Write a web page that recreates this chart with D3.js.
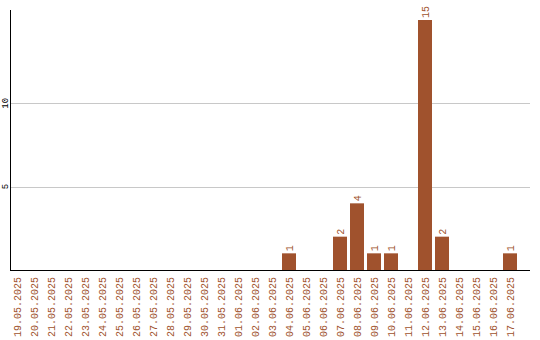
<!DOCTYPE html>
<html>
<head>
<meta charset="utf-8">
<script src="https://cdn.jsdelivr.net/npm/d3@7"></script>
<style>
  body { margin: 0; background: #fff; }
  text { font-family: "Liberation Mono", "DejaVu Sans Mono", monospace; }
</style>
</head>
<body>
<div id="container"></div>
<script>
var dates = ['19.05.2025','20.05.2025','21.05.2025','22.05.2025','23.05.2025','24.05.2025',
  '25.05.2025','26.05.2025','27.05.2025','28.05.2025','29.05.2025','30.05.2025','31.05.2025',
  '01.06.2025','02.06.2025','03.06.2025','04.06.2025','05.06.2025','06.06.2025','07.06.2025',
  '08.06.2025','09.06.2025','10.06.2025','11.06.2025','12.06.2025','13.06.2025','14.06.2025',
  '15.06.2025','16.06.2025','17.06.2025'];
var counts = [0,0,0,0,0,0,0,0,0,0,0,0,0,0,0,0,1,0,0,2,4,1,1,0,15,2,0,0,0,1];
var yTicks = [5, 10];

var barColor = '#a0522d';
var margin = ({top: 10, right: 10, bottom: 70, left: 10});
var width = 540, height = 340;

var data = dates.map((d, i) => ({date: d, value: counts[i]}));

var svg = d3.select('div#container')
	.append('svg')
	.attr('width', width)
	.attr('height', height);

var x = d3.scaleBand()
	.domain(dates)
	.range([margin.left, 517])
	.paddingInner(3 / 17)
	.paddingOuter(0)
	.align(0);

var y = d3.scaleLinear()
	.domain([0, 15.6])
	.range([height - margin.bottom, margin.top]);

// gridlines
svg.append('g')
	.selectAll('line')
	.data(yTicks)
	.join('line')
	.attr('x1', margin.left)
	.attr('x2', width - margin.right)
	.attr('y1', d => Math.round(y(d)) + 0.5)
	.attr('y2', d => Math.round(y(d)) + 0.5)
	.attr('stroke', '#c8c8c8');

// y tick labels (rotated)
svg.append('g')
	.selectAll('text')
	.data(yTicks)
	.join('text')
	.attr('transform', d => 'translate(5,' + y(d) + ') rotate(-90)')
	.attr('text-anchor', 'middle')
	.attr('dy', '0.35em')
	.attr('font-size', '9px')
	.attr('fill', '#000')
	.text(d => d);

// bars
svg.append('g')
	.selectAll('rect')
	.data(data.filter(d => d.value > 0))
	.join('rect')
	.attr('x', d => x(d.date))
	.attr('y', d => y(d.value))
	.attr('width', x.bandwidth())
	.attr('height', d => y(0) - y(d.value))
	.attr('fill', barColor);

// value labels
svg.append('g')
	.selectAll('text')
	.data(data.filter(d => d.value > 0))
	.join('text')
	.attr('transform', d => 'translate(' + (x(d.date) + x.bandwidth() / 2) + ',' + (y(d.value) - 2) + ') rotate(-90)')
	.attr('text-anchor', 'start')
	.attr('dy', '0.35em')
	.attr('font-size', '10px')
	.attr('fill', barColor)
	.text(d => d.value);

// axes lines
svg.append('line')
	.attr('x1', margin.left + 0.5).attr('x2', margin.left + 0.5)
	.attr('y1', margin.top).attr('y2', y(0))
	.attr('stroke', '#000');
svg.append('line')
	.attr('x1', margin.left).attr('x2', width - margin.right)
	.attr('y1', y(0) + 0.5).attr('y2', y(0) + 0.5)
	.attr('stroke', '#000');

// x labels
svg.append('g')
	.selectAll('text')
	.data(dates)
	.join('text')
	.attr('transform', d => 'translate(' + (x(d) + x.bandwidth() / 2) + ',' + 277 + ') rotate(-90)')
	.attr('text-anchor', 'end')
	.attr('dy', '0.35em')
	.attr('font-size', '10px')
	.attr('fill', barColor)
	.text(d => d);
</script>
</body>
</html>
